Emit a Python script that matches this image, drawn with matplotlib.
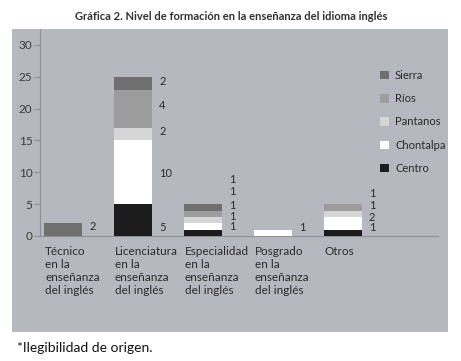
import matplotlib
matplotlib.use("Agg")
import matplotlib.pyplot as plt
from matplotlib.patches import Rectangle, Patch

plt.rcParams['font.family'] = ['Lato', 'DejaVu Sans']

categories = ["Técnico\nen la\nenseñanza\ndel inglés",
              "Licenciatura\nen la\nenseñanza\ndel inglés",
              "Especialidad\nen la\nenseñanza\ndel inglés",
              "Posgrado\nen la\nenseñanza\ndel inglés",
              "Otros"]
series = ["Centro", "Chontalpa", "Pantanos", "Ríos", "Sierra"]
# bar heights as drawn (bottom to top)
centro    = [0, 5, 1, 0, 1]
chontalpa = [0, 10, 1, 1, 2]
pantanos  = [0, 2, 1, 0, 1]
rios      = [0, 6, 1, 0, 1]
sierra    = [2, 2, 1, 0, 0]
# data labels as printed (top to bottom per category)
label_text = [["2"], ["2", "4", "2", "10", "5"], ["1", "1", "1", "1", "1"], ["1"], ["1", "1", "2", "1"]]
yticks = [0, 5, 10, 15, 20, 25, 30]

# layout: label vertical positions (data units)
label_y = [[0.6], [23.4, 19.7, 15.5, 9.0, 0.5], [8.0, 6.05, 3.95, 2.26, 0.63], [0.5], [5.8, 3.95, 2.1, 0.5]]

colors = {"Centro": "#1c1c1c", "Chontalpa": "#ffffff", "Pantanos": "#d6d6d6",
          "Ríos": "#9c9c9c", "Sierra": "#6f6f6f"}
values = {"Centro": centro, "Chontalpa": chontalpa, "Pantanos": pantanos,
          "Ríos": rios, "Sierra": sierra}

W, H = 461, 361
fig = plt.figure(figsize=(W / 100, H / 100), dpi=100)
fig.patch.set_facecolor("white")

# gray background panel
fig.patches.append(Rectangle((12 / W, 1 - 332 / H), (448 - 12) / W, (332 - 29) / H,
                             transform=fig.transFigure, facecolor="#b5b9bf",
                             edgecolor="none", zorder=-10))

ax = fig.add_axes([40 / W, 1 - 236 / H, (438 - 40) / W, (236 - 29) / H])
ax.set_facecolor("none")

x = list(range(len(categories)))
width = 0.545
bottom = [0] * len(categories)
for s in series:
    v = values[s]
    ax.bar(x, v, width, bottom=bottom, color=colors[s], edgecolor="none", zorder=3)
    bottom = [b + vi for b, vi in zip(bottom, v)]

ax.set_xlim(-0.335, 5.363)
ax.set_ylim(0, 32.5)
ax.set_yticks(yticks)
ax.set_yticklabels([str(t) for t in yticks])
ax.set_xticks([])
for sp in ["top", "right"]:
    ax.spines[sp].set_visible(False)
ax.spines["left"].set_color("#8c9096")
ax.spines["bottom"].set_color("#8c9096")
ax.tick_params(axis="y", length=4.5, color="#8c9096", labelsize=8.5, labelcolor="#3a3a3a", pad=1)

# data labels
for i, (texts, ys) in enumerate(zip(label_text, label_y)):
    for t, yy in zip(texts, ys):
        ax.text(i + width / 2 + 0.1, yy, t, fontsize=8, color="#2a2a2a",
                ha="left", va="bottom")

# category labels
for i, c in enumerate(categories):
    ax.text(i - width / 2 + 0.01, -1.5, c, fontsize=8.5, color="#2a2a2a",
            ha="left", va="top", linespacing=1.25)

# legend
handles = [Patch(facecolor=colors[s], edgecolor="none", label=s) for s in reversed(series)]
fig.legend(handles=handles, loc="upper left", bbox_to_anchor=(370 / W, 1 - 60 / H),
           frameon=False, fontsize=8, labelspacing=1.1, handlelength=0.8,
           handleheight=0.8, handletextpad=0.55, labelcolor="#2a2a2a")

fig.text(231 / W, 1 - 16 / H, "Gráfica 2. Nivel de formación en la enseñanza del idioma inglés",
         ha="center", va="center", fontsize=8, fontweight="bold", color="#303030")
fig.text(17 / W, 1 - 348 / H, "*Ilegibilidad de origen.", ha="left", va="center",
         fontsize=10, color="#111111")

fig.savefig("out.png", dpi=100)
